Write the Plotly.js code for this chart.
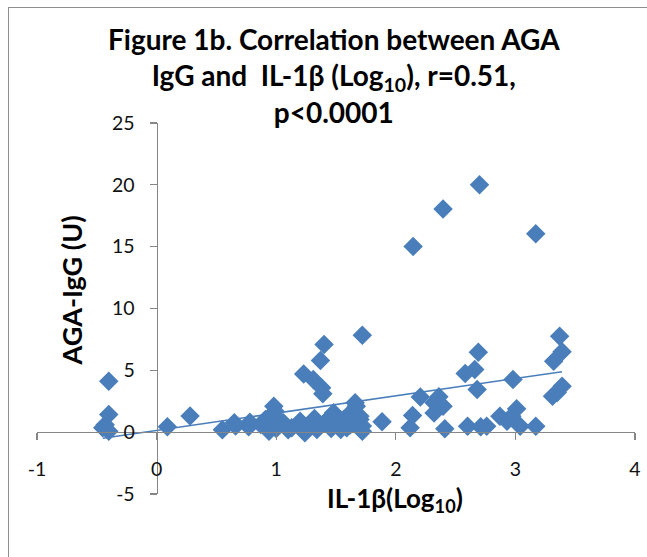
<!DOCTYPE html>
<html>
<head>
<meta charset="utf-8">
<script src="https://cdn.plot.ly/plotly-3.0.1.min.js"></script>
<style>
html,body{margin:0;padding:0;background:#fff;overflow:hidden;}
#chart{position:absolute;left:0;top:0;width:647px;height:557px;}
#frame{position:absolute;left:8px;top:7px;width:800px;height:800px;border-left:1px solid #8f8f8f;border-top:1px solid #8f8f8f;pointer-events:none;}
</style>
</head>
<body>
<div id="chart"></div>
<div id="frame"></div>
<script>
// IL-1β (Log10) values
const il1bLog = [
  -0.40, -0.40, -0.45, -0.40, -0.43,
  0.09, 0.28,
  0.55, 0.65, 0.66, 0.77, 0.78, 0.87, 0.91, 0.94, 0.97, 0.98, 0.99, 1.00, 0.95,
  1.03, 1.06, 1.10, 1.13, 1.18, 1.20, 1.24, 1.27, 1.29, 1.32, 1.34, 1.36, 1.41, 1.43, 1.46, 1.48, 1.52, 1.54, 1.565, 1.59, 1.62, 1.635, 1.65, 1.66, 1.67, 1.70, 1.70, 1.72, 1.72,
  1.23, 1.31, 1.37, 1.38, 1.39, 1.40, 1.72,
  1.885, 2.12, 2.14, 2.205, 2.32, 2.36, 2.395, 2.41, 2.145, 2.395, 2.32,
  2.58, 2.66, 2.69, 2.68, 2.60, 2.71, 2.76, 2.70, 2.87, 2.93, 2.97, 3.01, 2.98, 3.04, 3.17, 3.17, 3.31, 3.32, 3.37, 3.39, 3.39, 3.35
];
// AGA-IgG (U) values
const agaIgG = [
  4.12, 1.43, 0.35, 0.08, 0.60,
  0.44, 1.30,
  0.20, 0.76, 0.50, 0.44, 0.80, 0.62, 1.03, 0.08, 1.08, 2.10, 1.70, 0.30, 0.50,
  0.90, 0.76, 0.20, 0.35, 0.60, 0.89, -0.05, 0.40, 0.76, 1.10, 0.22, 0.50, 0.76, 1.03, 0.30, 1.57, 0.76, 0.22, 1.03, 0.35, 0.60, 1.70, 1.57, 2.37, 2.10, 1.03, 1.29, 0.08, 0.50,
  4.70, 4.26, 5.80, 3.60, 3.10, 7.08, 7.84,
  0.85, 0.35, 1.35, 2.85, 1.55, 2.86, 2.10, 0.27, 15.02, 18.05, 2.37,
  4.75, 5.07, 6.46, 3.45, 0.48, 0.44, 0.48, 20.0, 1.29, 0.89, 1.29, 1.89, 4.26, 0.48, 0.48, 16.05, 2.91, 5.73, 7.75, 6.50, 3.72, 3.20
];
const xTicks = [-1, 0, 1, 2, 3, 4];
const yTicks = [-5, 0, 5, 10, 15, 20, 25];
const titleLines = [
  "Figure 1b. Correlation between AGA",
  "IgG and  IL-1β (Log<sub>10</sub>), r=0.51,",
  "p<0.0001"
];
const xTitle = "IL-1β(Log<sub>10</sub>)";
const yTitle = "AGA-IgG (U)";

// linear least-squares trendline from the data
const n = il1bLog.length;
let sx=0, sy=0, sxx=0, sxy=0;
for (let i=0;i<n;i++){ sx+=il1bLog[i]; sy+=agaIgG[i]; sxx+=il1bLog[i]*il1bLog[i]; sxy+=il1bLog[i]*agaIgG[i]; }
const slope = (n*sxy - sx*sy)/(n*sxx - sx*sx);
const intercept = (sy - slope*sx)/n;
const xMin = Math.min(...il1bLog), xMax = Math.max(...il1bLog);

const FONT = "Lato, 'Open Sans', sans-serif";
const blue = "#4a7ebb";

const data = [
  {
    type: 'scatter', mode: 'markers', x: il1bLog, y: agaIgG,
    marker: {symbol: 'diamond', size: 15, color: blue, line: {width: 0}},
    hoverinfo: 'x+y', showlegend: false
  },
  {
    type: 'scatter', mode: 'lines', x: [xMin, xMax], y: [slope*xMin+intercept, slope*xMax+intercept],
    line: {color: blue, width: 1.5}, showlegend: false, hoverinfo: 'skip'
  }
];

const axisCommon = {
  showgrid: false, zeroline: false, showline: true,
  linecolor: '#868686', linewidth: 1.3,
  ticks: 'outside', ticklen: 7, tickcolor: '#868686', tickwidth: 1.3,
  tickfont: {family: FONT, size: 19.5, color: '#111'},
  anchor: 'free', fixedrange: true
};

const layout = {
  width: 647, height: 557,
  margin: {l: 37, r: 12, t: 123, b: 63},
  paper_bgcolor: '#ffffff', plot_bgcolor: '#ffffff',
  xaxis: Object.assign({}, axisCommon, {
    range: [-1, 4], tickvals: xTicks, ticktext: xTicks.map(String),
    position: 5/30, ticklabelstandoff: 12
  }),
  yaxis: Object.assign({}, axisCommon, {
    range: [-5, 25], tickvals: yTicks, ticktext: yTicks.map(String),
    position: 0.2, ticklabelstandoff: 11
  }),
  annotations: [
    {text: titleLines.map(t => '<b>'+t+'</b>').join('<br>'), xref: 'paper', yref: 'paper', x: 0.497, y: 1.128, showarrow: false, font: {family: FONT, size: 28, color: '#000'}, xanchor: 'center', yanchor: 'middle', align: 'center'},
    {text: '<b>'+xTitle+'</b>', xref: 'paper', yref: 'paper', x: 0.5987, y: -0.016, showarrow: false, font: {family: FONT, size: 26, color: '#000'}, xanchor: 'center', yanchor: 'middle'},
    {text: '<b>'+yTitle+'</b>', xref: 'paper', yref: 'paper', x: 0.058, y: 0.548, showarrow: false, textangle: -90, font: {family: FONT, size: 27, color: '#000'}, xanchor: 'center', yanchor: 'middle'}
  ]
};

Plotly.newPlot('chart', data, layout, {displayModeBar: false, staticPlot: true});
</script>
</body>
</html>
